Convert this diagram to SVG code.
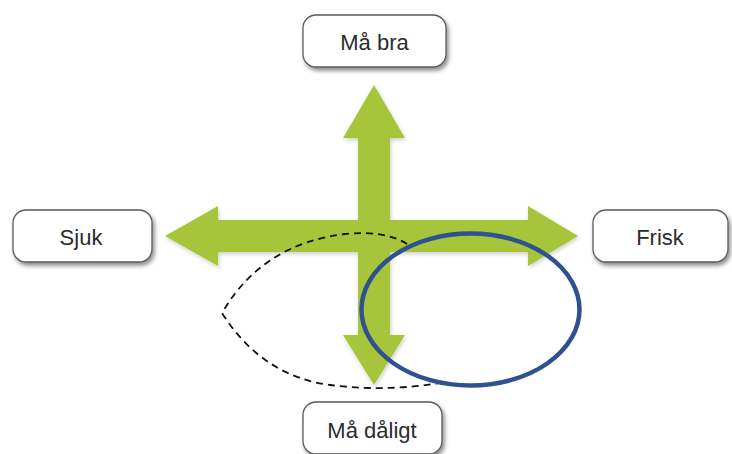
<svg xmlns="http://www.w3.org/2000/svg" width="732" height="454" viewBox="0 0 732 454">
  <defs>
    <filter id="boxShadow" x="-20%" y="-30%" width="140%" height="170%">
      <feDropShadow dx="2" dy="3" stdDeviation="2" flood-color="#000" flood-opacity="0.45"/>
    </filter>
    <filter id="arrowShadow" x="-10%" y="-10%" width="120%" height="120%">
      <feDropShadow dx="1" dy="2" stdDeviation="2" flood-color="#000" flood-opacity="0.2"/>
    </filter>
  </defs>
  <style>
    .box { fill: #ffffff; stroke: #5a5a5a; stroke-width: 1.3; filter: url(#boxShadow); }
    .lbl { font-family: "Liberation Sans", Arial, sans-serif; font-size: 22px; fill: #2b2b2b; text-anchor: middle; dominant-baseline: central; }
  </style>
  <rect width="732" height="454" fill="#ffffff"/>

  <g id="connectors">
    <polygon id="cross" fill="#a6c53b" filter="url(#arrowShadow)"
      points="374,85 405,138 390,138 390,220 528,220 528,206 578,236 528,266 528,252 390,252 390,335 405,335 374,385 343,335 358,335 358,252 218,252 218,266 165,236 218,206 218,220 358,220 358,138 343,138"/>
    <path id="dashed" d="M407,244 Q385,230 345,234 Q262,244 222,313 Q262,376 330,385 Q385,392 440,383" fill="none" stroke="#111" stroke-width="1.8" stroke-dasharray="7,5"/>
    <ellipse id="blueEllipse" cx="470.5" cy="309.5" rx="109" ry="76" fill="none" stroke="#2f5191" stroke-width="4.5"/>
  </g>

  <g id="node-ma-bra">
    <rect class="box" x="303" y="15" width="143" height="52" rx="13"/>
    <text class="lbl" x="374.5" y="42">Må bra</text>
  </g>
  <g id="node-sjuk">
    <rect class="box" x="13" y="210" width="139" height="52" rx="13"/>
    <text class="lbl" x="81" y="237">Sjuk</text>
  </g>
  <g id="node-frisk">
    <rect class="box" x="593" y="210" width="135" height="52" rx="13"/>
    <text class="lbl" x="660" y="237">Frisk</text>
  </g>
  <g id="node-ma-daligt">
    <rect class="box" x="303" y="402" width="139" height="52" rx="13"/>
    <text class="lbl" x="372" y="430">Må dåligt</text>
  </g>
</svg>
